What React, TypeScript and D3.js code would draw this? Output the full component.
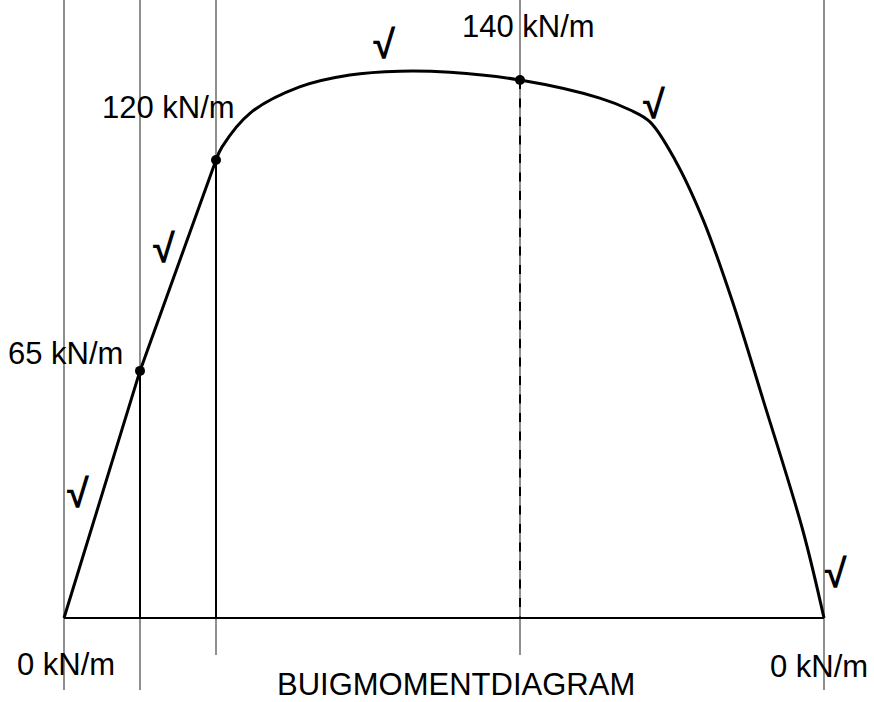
import React from "react";
import * as d3 from "d3";

// Section positions along the beam (m) and moment values
const SECTION_X = [0, 1, 2, 6, 10];
const SECTION_M = [0, 64.3, 119.2, 140, 0];
const SECTION_LABELS = ["0 kN/m", "65 kN/m", "120 kN/m", "140 kN/m", "0 kN/m"];

// straight part of the diagram
const LINE_X = [0, 1, 2];
const LINE_M = [0, 64.3, 119.2];

// curved part of the diagram
const CURVE_X = [2, 2.08, 2.45, 3.1, 3.76, 4.42, 5.08, 6, 7.05, 7.45, 7.71, 8.04, 8.41, 8.79, 9.2, 9.72, 10];
const CURVE_M = [119.2, 122.6, 131.4, 138.2, 141.3, 142.3, 142.0, 140, 135.3, 132.2, 129.1, 119.2, 103.6, 82.7, 56.7, 22.9, 0];

// check marks
const CHECK_X = [0.04, 1.17, 4.07, 7.62, 10.01];
const CHECK_M = [28.9, 92.6, 145.7, 130.1, 8.1];

const TITLE = "BUIGMOMENTDIAGRAM";

const W = 874;
const H = 702;

export default function App() {
  const x = d3.scaleLinear().domain([0, 10]).range([64, 824]);
  const y = d3.scaleLinear().domain([0, 140]).range([618, 80]);

  const linePath = d3
    .line<number>()
    .x((_, i) => x(LINE_X[i]))
    .y((d) => y(d))
    .curve(d3.curveLinear)(LINE_M) as string;

  const curvePath = d3
    .line<number>()
    .x((_, i) => x(CURVE_X[i]))
    .y((d) => y(d))
    .curve(d3.curveCatmullRom.alpha(0.5))(CURVE_M) as string;

  const font = "'Liberation Sans', Arial, sans-serif";
  const gray = "#8f8f8f";

  const guideBottom = [690, 690, 655, 655, 690];
  const labelOff = [
    [-47, 57],
    [-132, -7],
    [-114, -42],
    [-58, -43],
    [-54, 59],
  ];

  return (
    <svg width={W} height={H} style={{ position: "absolute", left: 0, top: 0, background: "#fff" }}>
      {SECTION_X.map((sx, i) => (
        <line key={"g" + i} x1={x(sx)} x2={x(sx)} y1={0} y2={guideBottom[i]} stroke={gray} strokeWidth={2} />
      ))}
      <line x1={x(0)} x2={x(10)} y1={y(0)} y2={y(0)} stroke="#000" strokeWidth={2} />
      {[1, 2].map((i) => (
        <line key={"v" + i} x1={x(SECTION_X[i])} x2={x(SECTION_X[i])} y1={y(SECTION_M[i])} y2={y(0)} stroke="#000" strokeWidth={2} />
      ))}
      <line x1={x(SECTION_X[3])} x2={x(SECTION_X[3])} y1={y(SECTION_M[3])} y2={y(0)} stroke="#000" strokeWidth={2} strokeDasharray="9 9.5" />
      <path d={linePath} fill="none" stroke="#000" strokeWidth={3} strokeLinejoin="round" />
      <path d={curvePath} fill="none" stroke="#000" strokeWidth={3} strokeLinejoin="round" />
      {[1, 2, 3].map((i) => (
        <circle key={"c" + i} cx={x(SECTION_X[i])} cy={y(SECTION_M[i])} r={5} fill="#000" />
      ))}
      {SECTION_LABELS.map((t, i) => (
        <text key={"l" + i} x={x(SECTION_X[i]) + labelOff[i][0]} y={y(SECTION_M[i]) + labelOff[i][1]} fontFamily={font} fontSize={31} fill="#000">
          {t}
        </text>
      ))}
      {CHECK_X.map((cx, i) => (
        <text key={"k" + i} x={x(cx)} y={y(CHECK_M[i])} fontFamily={font} fontSize={40} fontWeight="bold" fill="#000">
          √
        </text>
      ))}
      <text x={277} y={695} fontFamily={font} fontSize={31} fill="#000">
        {TITLE}
      </text>
    </svg>
  );
}
